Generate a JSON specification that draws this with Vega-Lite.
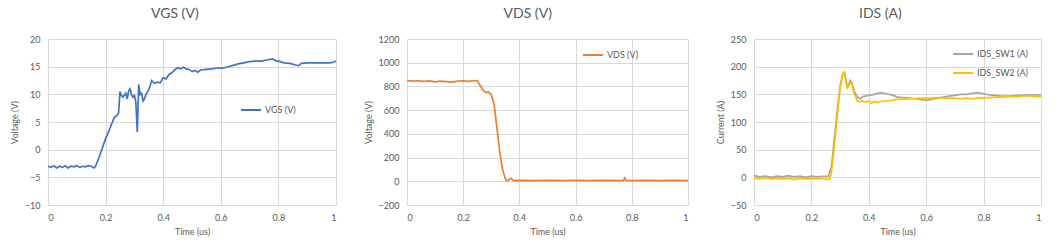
{
  "$schema": "https://vega.github.io/schema/vega-lite/v6.json",
  "background": "white",
  "padding": {"left": 10, "top": 7, "right": 10, "bottom": 5},
  "spacing": 24,
  "config": {
    "font": "Lato",
    "view": {"stroke": null},
    "axis": {"gridColor": "#d9d9d9", "gridWidth": 1, "domain": false, "ticks": false, "labelColor": "#595959", "labelFontSize": 9, "titleColor": "#595959", "titleFontSize": 9, "titleFontWeight": "normal", "labelPadding": 8},
    "title": {"fontSize": 14, "fontWeight": "normal", "color": "#595959", "frame": "bounds", "anchor": "middle", "offset": 14},
    "legend": {"labelColor": "#595959", "labelFontSize": 9, "symbolType": "stroke", "symbolSize": 400, "symbolStrokeWidth": 2, "labelOffset": 3, "rowPadding": 3, "padding": 0, "title": null}
  },
  "datasets": {
    "vgs": [
      {"t":0,"v":-3.0},{"t":0.01,"v":-3.2},{"t":0.02,"v":-2.9},{"t":0.03,"v":-3.3},{"t":0.04,"v":-3.0},{"t":0.05,"v":-3.2},{"t":0.06,"v":-2.9},{"t":0.07,"v":-3.3},{"t":0.08,"v":-3.0},{"t":0.09,"v":-3.1},{"t":0.10,"v":-2.9},{"t":0.11,"v":-3.2},{"t":0.12,"v":-3.0},{"t":0.13,"v":-3.1},{"t":0.14,"v":-2.9},{"t":0.15,"v":-3.0},{"t":0.16,"v":-3.3},{"t":0.165,"v":-3.0},
      {"t":0.18,"v":-1.0},{"t":0.19,"v":0.5},{"t":0.20,"v":2.0},{"t":0.21,"v":3.2},{"t":0.22,"v":4.5},{"t":0.23,"v":5.8},{"t":0.24,"v":6.2},{"t":0.245,"v":6.6},{"t":0.25,"v":10.5},{"t":0.255,"v":9.8},{"t":0.26,"v":9.5},{"t":0.27,"v":10.2},{"t":0.275,"v":9.2},{"t":0.28,"v":10.6},{"t":0.285,"v":11.0},{"t":0.29,"v":9.9},{"t":0.295,"v":9.5},{"t":0.30,"v":9.8},{"t":0.305,"v":8.6},{"t":0.31,"v":3.2},{"t":0.315,"v":11.8},{"t":0.32,"v":10.0},{"t":0.325,"v":10.2},{"t":0.33,"v":8.8},{"t":0.335,"v":9.2},{"t":0.34,"v":10.0},{"t":0.35,"v":10.8},{"t":0.36,"v":12.5},{"t":0.37,"v":12.0},{"t":0.38,"v":12.2},{"t":0.39,"v":12.1},{"t":0.40,"v":13.0},{"t":0.41,"v":12.8},{"t":0.42,"v":13.6},{"t":0.43,"v":13.9},{"t":0.44,"v":14.4},{"t":0.45,"v":14.8},{"t":0.46,"v":14.6},{"t":0.47,"v":14.9},{"t":0.48,"v":14.6},{"t":0.49,"v":14.5},{"t":0.50,"v":14.1},{"t":0.51,"v":14.3},{"t":0.52,"v":14.0},{"t":0.53,"v":14.4},{"t":0.55,"v":14.5},{"t":0.57,"v":14.6},{"t":0.59,"v":14.8},{"t":0.60,"v":14.7},{"t":0.62,"v":14.9},{"t":0.64,"v":15.2},{"t":0.66,"v":15.5},{"t":0.68,"v":15.7},{"t":0.70,"v":15.9},{"t":0.72,"v":16.0},{"t":0.74,"v":16.0},{"t":0.76,"v":16.2},{"t":0.78,"v":16.4},{"t":0.79,"v":16.1},{"t":0.80,"v":16.0},{"t":0.82,"v":15.7},{"t":0.84,"v":15.6},{"t":0.86,"v":15.3},{"t":0.87,"v":15.2},{"t":0.88,"v":15.6},{"t":0.90,"v":15.7},{"t":0.92,"v":15.7},{"t":0.94,"v":15.7},{"t":0.96,"v":15.7},{"t":0.98,"v":15.7},{"t":0.99,"v":15.8},{"t":1.0,"v":16.0}
    ],
    "vds": [
      {"t":0,"v":850},{"t":0.02,"v":845},{"t":0.04,"v":848},{"t":0.06,"v":842},{"t":0.08,"v":846},{"t":0.10,"v":838},{"t":0.12,"v":844},{"t":0.14,"v":840},{"t":0.16,"v":836},{"t":0.18,"v":845},{"t":0.20,"v":848},{"t":0.22,"v":842},{"t":0.24,"v":850},{"t":0.25,"v":848},{"t":0.26,"v":810},{"t":0.27,"v":770},{"t":0.28,"v":750},{"t":0.29,"v":752},{"t":0.30,"v":730},{"t":0.31,"v":650},{"t":0.32,"v":450},{"t":0.33,"v":250},{"t":0.34,"v":100},{"t":0.35,"v":20},{"t":0.355,"v":5},{"t":0.36,"v":8},{"t":0.37,"v":25},{"t":0.38,"v":5},{"t":0.40,"v":8},{"t":0.45,"v":5},{"t":0.50,"v":8},{"t":0.55,"v":6},{"t":0.60,"v":7},{"t":0.65,"v":6},{"t":0.70,"v":8},{"t":0.75,"v":6},{"t":0.77,"v":5},{"t":0.775,"v":28},{"t":0.78,"v":8},{"t":0.80,"v":6},{"t":0.85,"v":8},{"t":0.90,"v":5},{"t":0.95,"v":7},{"t":1.0,"v":6}
    ],
    "ids": [
      {"s":"IDS_SW1 (A)","t":0,"v":3},{"s":"IDS_SW1 (A)","t":0.02,"v":1},{"s":"IDS_SW1 (A)","t":0.04,"v":2},{"s":"IDS_SW1 (A)","t":0.06,"v":0},{"s":"IDS_SW1 (A)","t":0.08,"v":2},{"s":"IDS_SW1 (A)","t":0.10,"v":1},{"s":"IDS_SW1 (A)","t":0.12,"v":3},{"s":"IDS_SW1 (A)","t":0.14,"v":1},{"s":"IDS_SW1 (A)","t":0.16,"v":2},{"s":"IDS_SW1 (A)","t":0.18,"v":0},{"s":"IDS_SW1 (A)","t":0.20,"v":2},{"s":"IDS_SW1 (A)","t":0.22,"v":1},{"s":"IDS_SW1 (A)","t":0.24,"v":2},{"s":"IDS_SW1 (A)","t":0.26,"v":2},{"s":"IDS_SW1 (A)","t":0.27,"v":20},{"s":"IDS_SW1 (A)","t":0.28,"v":70},{"s":"IDS_SW1 (A)","t":0.29,"v":120},{"s":"IDS_SW1 (A)","t":0.30,"v":165},{"s":"IDS_SW1 (A)","t":0.31,"v":188},{"s":"IDS_SW1 (A)","t":0.315,"v":190},{"s":"IDS_SW1 (A)","t":0.32,"v":178},{"s":"IDS_SW1 (A)","t":0.325,"v":163},{"s":"IDS_SW1 (A)","t":0.33,"v":168},{"s":"IDS_SW1 (A)","t":0.335,"v":175},{"s":"IDS_SW1 (A)","t":0.34,"v":172},{"s":"IDS_SW1 (A)","t":0.35,"v":155},{"s":"IDS_SW1 (A)","t":0.36,"v":145},{"s":"IDS_SW1 (A)","t":0.37,"v":142},{"s":"IDS_SW1 (A)","t":0.38,"v":146},{"s":"IDS_SW1 (A)","t":0.40,"v":148},{"s":"IDS_SW1 (A)","t":0.42,"v":150},{"s":"IDS_SW1 (A)","t":0.44,"v":153},{"s":"IDS_SW1 (A)","t":0.46,"v":151},{"s":"IDS_SW1 (A)","t":0.48,"v":149},{"s":"IDS_SW1 (A)","t":0.50,"v":145},{"s":"IDS_SW1 (A)","t":0.52,"v":144},{"s":"IDS_SW1 (A)","t":0.54,"v":143},{"s":"IDS_SW1 (A)","t":0.56,"v":142},{"s":"IDS_SW1 (A)","t":0.58,"v":141},{"s":"IDS_SW1 (A)","t":0.60,"v":139},{"s":"IDS_SW1 (A)","t":0.62,"v":141},{"s":"IDS_SW1 (A)","t":0.64,"v":143},{"s":"IDS_SW1 (A)","t":0.66,"v":145},{"s":"IDS_SW1 (A)","t":0.68,"v":147},{"s":"IDS_SW1 (A)","t":0.70,"v":148},{"s":"IDS_SW1 (A)","t":0.72,"v":150},{"s":"IDS_SW1 (A)","t":0.74,"v":150},{"s":"IDS_SW1 (A)","t":0.76,"v":152},{"s":"IDS_SW1 (A)","t":0.78,"v":153},{"s":"IDS_SW1 (A)","t":0.80,"v":151},{"s":"IDS_SW1 (A)","t":0.82,"v":149},{"s":"IDS_SW1 (A)","t":0.84,"v":148},{"s":"IDS_SW1 (A)","t":0.86,"v":147},{"s":"IDS_SW1 (A)","t":0.88,"v":147},{"s":"IDS_SW1 (A)","t":0.90,"v":147},{"s":"IDS_SW1 (A)","t":0.92,"v":148},{"s":"IDS_SW1 (A)","t":0.94,"v":148},{"s":"IDS_SW1 (A)","t":0.96,"v":149},{"s":"IDS_SW1 (A)","t":0.98,"v":149},{"s":"IDS_SW1 (A)","t":1.0,"v":149},
      {"s":"IDS_SW2 (A)","t":0,"v":-2},{"s":"IDS_SW2 (A)","t":0.02,"v":-3},{"s":"IDS_SW2 (A)","t":0.04,"v":-1},{"s":"IDS_SW2 (A)","t":0.06,"v":-3},{"s":"IDS_SW2 (A)","t":0.08,"v":-2},{"s":"IDS_SW2 (A)","t":0.10,"v":-3},{"s":"IDS_SW2 (A)","t":0.12,"v":-2},{"s":"IDS_SW2 (A)","t":0.14,"v":-4},{"s":"IDS_SW2 (A)","t":0.16,"v":-2},{"s":"IDS_SW2 (A)","t":0.18,"v":-3},{"s":"IDS_SW2 (A)","t":0.20,"v":-2},{"s":"IDS_SW2 (A)","t":0.22,"v":-3},{"s":"IDS_SW2 (A)","t":0.24,"v":-2},{"s":"IDS_SW2 (A)","t":0.26,"v":-4},{"s":"IDS_SW2 (A)","t":0.265,"v":-3},{"s":"IDS_SW2 (A)","t":0.27,"v":10},{"s":"IDS_SW2 (A)","t":0.28,"v":55},{"s":"IDS_SW2 (A)","t":0.29,"v":110},{"s":"IDS_SW2 (A)","t":0.30,"v":160},{"s":"IDS_SW2 (A)","t":0.31,"v":186},{"s":"IDS_SW2 (A)","t":0.315,"v":190},{"s":"IDS_SW2 (A)","t":0.32,"v":175},{"s":"IDS_SW2 (A)","t":0.325,"v":162},{"s":"IDS_SW2 (A)","t":0.33,"v":165},{"s":"IDS_SW2 (A)","t":0.335,"v":172},{"s":"IDS_SW2 (A)","t":0.34,"v":170},{"s":"IDS_SW2 (A)","t":0.35,"v":150},{"s":"IDS_SW2 (A)","t":0.36,"v":138},{"s":"IDS_SW2 (A)","t":0.37,"v":137},{"s":"IDS_SW2 (A)","t":0.38,"v":138},{"s":"IDS_SW2 (A)","t":0.39,"v":136},{"s":"IDS_SW2 (A)","t":0.40,"v":138},{"s":"IDS_SW2 (A)","t":0.41,"v":134},{"s":"IDS_SW2 (A)","t":0.42,"v":137},{"s":"IDS_SW2 (A)","t":0.43,"v":135},{"s":"IDS_SW2 (A)","t":0.44,"v":137},{"s":"IDS_SW2 (A)","t":0.46,"v":138},{"s":"IDS_SW2 (A)","t":0.48,"v":139},{"s":"IDS_SW2 (A)","t":0.50,"v":141},{"s":"IDS_SW2 (A)","t":0.52,"v":141},{"s":"IDS_SW2 (A)","t":0.54,"v":142},{"s":"IDS_SW2 (A)","t":0.56,"v":142},{"s":"IDS_SW2 (A)","t":0.58,"v":143},{"s":"IDS_SW2 (A)","t":0.60,"v":143},{"s":"IDS_SW2 (A)","t":0.62,"v":143},{"s":"IDS_SW2 (A)","t":0.64,"v":144},{"s":"IDS_SW2 (A)","t":0.66,"v":143},{"s":"IDS_SW2 (A)","t":0.68,"v":143},{"s":"IDS_SW2 (A)","t":0.70,"v":143},{"s":"IDS_SW2 (A)","t":0.72,"v":142},{"s":"IDS_SW2 (A)","t":0.74,"v":143},{"s":"IDS_SW2 (A)","t":0.76,"v":142},{"s":"IDS_SW2 (A)","t":0.78,"v":143},{"s":"IDS_SW2 (A)","t":0.80,"v":143},{"s":"IDS_SW2 (A)","t":0.82,"v":144},{"s":"IDS_SW2 (A)","t":0.84,"v":145},{"s":"IDS_SW2 (A)","t":0.86,"v":145},{"s":"IDS_SW2 (A)","t":0.88,"v":146},{"s":"IDS_SW2 (A)","t":0.90,"v":146},{"s":"IDS_SW2 (A)","t":0.92,"v":146},{"s":"IDS_SW2 (A)","t":0.94,"v":147},{"s":"IDS_SW2 (A)","t":0.96,"v":147},{"s":"IDS_SW2 (A)","t":0.98,"v":146},{"s":"IDS_SW2 (A)","t":1.0,"v":146}
    ]
  },
  "resolve": {"scale": {"color": "independent", "x": "independent", "y": "independent"}, "legend": {"color": "independent"}},
  "hconcat": [
    {
      "title": "VGS (V)",
      "width": 288, "height": 166,
      "data": {"name": "vgs"},
      "transform": [{"calculate": "'VGS (V)'", "as": "s"}],
      "mark": {"type": "line", "strokeWidth": 1.7},
      "encoding": {
        "x": {"field": "t", "type": "quantitative", "scale": {"domain": [0, 1], "nice": false}, "axis": {"values": [0, 0.2, 0.4, 0.6, 0.8, 1], "format": "~g", "title": "Time (us)", "titlePadding": 5}},
        "y": {"field": "v", "type": "quantitative", "scale": {"domain": [-10, 20], "nice": false}, "axis": {"values": [-10, -5, 0, 5, 10, 15, 20], "format": "d", "title": "Voltage (V)", "titlePadding": 5}},
        "color": {"field": "s", "type": "nominal", "scale": {"domain": ["VGS (V)"], "range": ["#4472C4"]}, "legend": {"orient": "none", "legendX": 192, "legendY": 60}}
      }
    },
    {
      "title": "VDS (V)",
      "width": 281, "height": 166,
      "data": {"name": "vds"},
      "transform": [{"calculate": "'VDS (V)'", "as": "s"}],
      "mark": {"type": "line", "strokeWidth": 1.7},
      "encoding": {
        "x": {"field": "t", "type": "quantitative", "scale": {"domain": [0, 1], "nice": false}, "axis": {"values": [0, 0.2, 0.4, 0.6, 0.8, 1], "format": "~g", "title": "Time (us)", "titlePadding": 5}},
        "y": {"field": "v", "type": "quantitative", "scale": {"domain": [-200, 1200], "nice": false}, "axis": {"values": [-200, 0, 200, 400, 600, 800, 1000, 1200], "format": "d", "title": "Voltage (V)", "titlePadding": 5}},
        "color": {"field": "s", "type": "nominal", "scale": {"domain": ["VDS (V)"], "range": ["#ED7D31"]}, "legend": {"orient": "none", "legendX": 175, "legendY": 5}}
      }
    },
    {
      "title": "IDS (A)",
      "width": 287, "height": 166,
      "data": {"name": "ids"},
      "mark": {"type": "line", "strokeWidth": 1.7},
      "encoding": {
        "x": {"field": "t", "type": "quantitative", "scale": {"domain": [0, 1], "nice": false}, "axis": {"values": [0, 0.2, 0.4, 0.6, 0.8, 1], "format": "~g", "title": "Time (us)", "titlePadding": 5}},
        "y": {"field": "v", "type": "quantitative", "scale": {"domain": [-50, 250], "nice": false}, "axis": {"values": [-50, 0, 50, 100, 150, 200, 250], "format": "d", "title": "Current (A)", "titlePadding": 5}},
        "color": {"field": "s", "type": "nominal", "scale": {"domain": ["IDS_SW1 (A)", "IDS_SW2 (A)"], "range": ["#A5A5A5", "#FFC000"]}, "legend": {"orient": "none", "legendX": 198, "legendY": 4}}
      }
    }
  ]
}
